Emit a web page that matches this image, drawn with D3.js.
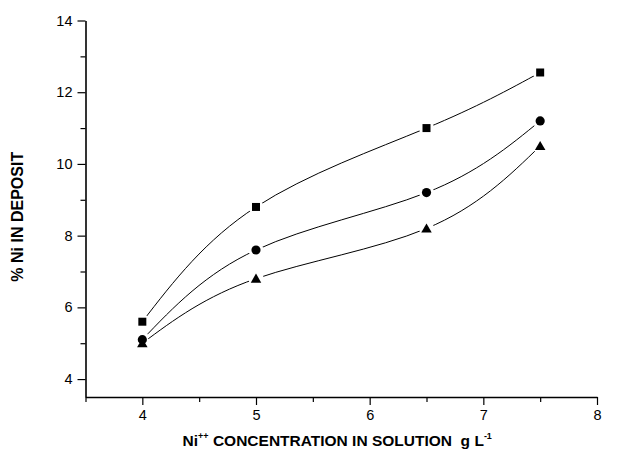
<!DOCTYPE html>
<html>
<head>
<meta charset="utf-8">
<script src="https://cdn.jsdelivr.net/npm/d3@7"></script>
<style>
  body { margin: 0; background: #fff; }
  svg text { font-family: "Liberation Sans", Arial, sans-serif; fill: #000; }
</style>
</head>
<body>
<svg id="chart"></svg>
<script>
// data
const conc = [4, 5, 6.5, 7.5];
const squareSeries = [5.6, 8.8, 11.0, 12.55];
const circleSeries = [5.1, 7.6, 9.2, 11.2];
const triangleSeries = [5.0, 6.8, 8.2, 10.5];
const xTicks = [4, 5, 6, 7, 8];
const xMinor = [3.5, 4.5, 5.5, 6.5, 7.5];
const yTicks = [4, 6, 8, 10, 12, 14];
const yMinor = [5, 7, 9, 11, 13];

var width = 619, height = 460;
var margin = { top: 20.5, right: 22, bottom: 63, left: 85.5 };

const svg = d3.select("#chart").attr("width", width).attr("height", height);

var x = d3.scaleLinear().domain([3.5, 8]).range([margin.left, width - margin.right]);
var y = d3.scaleLinear().domain([3.5, 14]).range([height - margin.bottom, margin.top]);

// axes
const xAxis = svg.append("g").attr("transform", `translate(0,${height - margin.bottom})`);
xAxis.call(d3.axisBottom(x).tickValues(xTicks).tickFormat(d3.format("d")).tickSize(8).tickPadding(5).tickSizeOuter(0));
xAxis.append("g").call(d3.axisBottom(x).tickValues(xMinor).tickSize(5).tickFormat("").tickSizeOuter(0))
    .select(".domain").remove();

const yAxis = svg.append("g").attr("transform", `translate(${margin.left},0)`);
yAxis.call(d3.axisLeft(y).tickValues(yTicks).tickFormat(d3.format("d")).tickSize(8).tickPadding(5).tickSizeOuter(0));
yAxis.append("g").call(d3.axisLeft(y).tickValues(yMinor).tickSize(5).tickFormat("").tickSizeOuter(0))
    .select(".domain").remove();

svg.selectAll(".domain").attr("stroke-width", 1.6);
svg.selectAll(".tick line").attr("stroke-width", 1.2);
svg.selectAll(".tick text").style("font-size", "14.5px").attr("fill", "#000");

// axis titles
svg.append("text")
    .attr("transform", "translate(23," + ((margin.top + height - margin.bottom) / 2 + 8) + ") rotate(-90)")
    .attr("text-anchor", "middle")
    .style("font-size", "16px")
    .style("font-weight", "bold")
    .text("% Ni IN DEPOSIT");

const xt = svg.append("text")
    .attr("x", (margin.left + width - margin.right) / 2 - 4)
    .attr("y", 446)
    .attr("text-anchor", "middle")
    .style("font-size", "15.5px")
    .style("font-weight", "bold");
xt.append("tspan").text("Ni");
xt.append("tspan").attr("dy", -7).style("font-size", "9px").text("++");
xt.append("tspan").attr("dy", 7).text(" CONCENTRATION IN SOLUTION\u00a0\u00a0g L");
xt.append("tspan").attr("dy", -7).style("font-size", "9px").text("-1");

// curves
var line = d3.line().x((d) => x(d[0])).y((d) => y(d[1])).curve(d3.curveNatural);

var series = [
    { id: "sq", values: squareSeries, shape: d3.symbolSquare, size: 64 },
    { id: "ci", values: circleSeries, shape: d3.symbolCircle, size: 66 },
    { id: "tr", values: triangleSeries, shape: d3.symbolTriangle, size: 48 },
];

const defs = svg.append("defs");
series.forEach((s) => {
    var pts = conc.map((c, i) => [c, s.values[i]]);
    // mask so the line stops short of each marker
    var m = defs.append("mask").attr("id", "mask-" + s.id).attr("maskUnits", "userSpaceOnUse")
        .attr("x", 0).attr("y", 0).attr("width", width).attr("height", height);
    m.append("rect").attr("width", width).attr("height", height).attr("fill", "#fff");
    m.selectAll("circle").data(pts).join("circle")
        .attr("cx", (d) => x(d[0]))
        .attr("cy", (d) => y(d[1]))
        .attr("r", 7.5)
        .attr("fill", "#000");

    svg.append("path")
        .datum(pts)
        .attr("d", line)
        .attr("fill", "none")
        .attr("stroke", "#000")
        .attr("stroke-width", 1)
        .attr("mask", "url(#mask-" + s.id + ")");
});

// markers (triangles under circles, as in the figure)
[series[2], series[0], series[1]].forEach((s) => {
    svg.selectAll(".m-" + s.id)
        .data(conc.map((c, i) => [c, s.values[i]]))
        .join("path")
        .attr("class", "m-" + s.id)
        .attr("transform", (d) => `translate(${x(d[0])},${y(d[1]) + (s.id == "tr" ? 1 : 0)})`)
        .attr("d", d3.symbol().type(s.shape).size(s.size))
        .attr("fill", "#000");
});
</script>
</body>
</html>
